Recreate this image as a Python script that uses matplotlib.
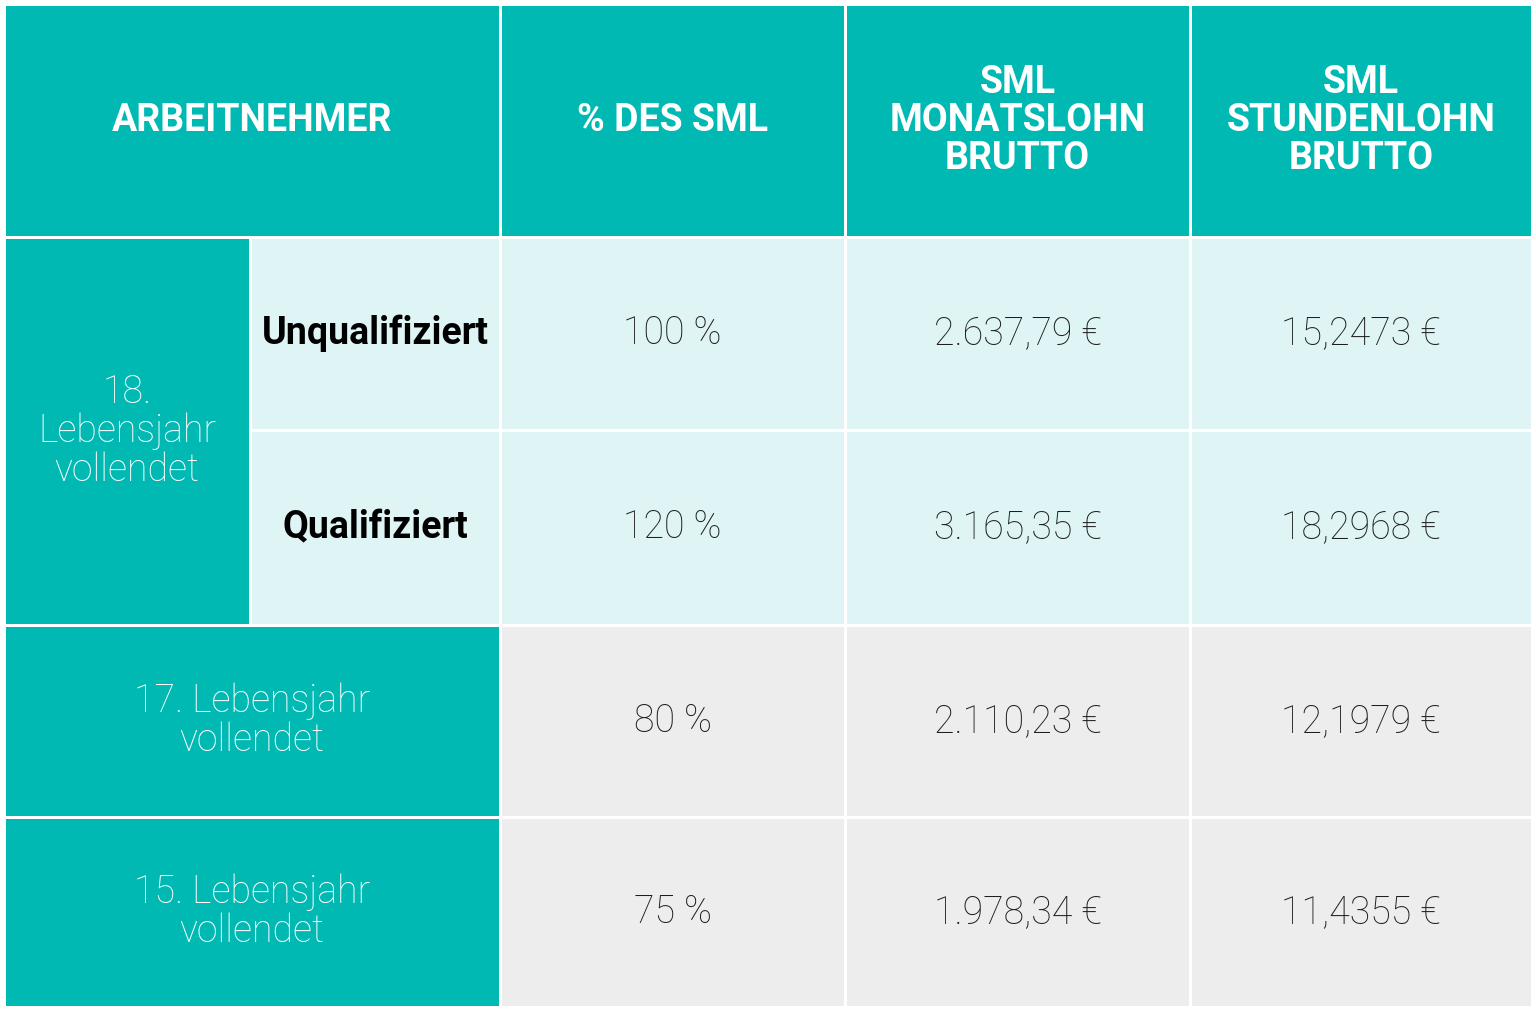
import matplotlib
matplotlib.use("Agg")
import matplotlib.pyplot as plt
from matplotlib.patches import Rectangle

headers = ["ARBEITNEHMER", "% DES SML", "SML\nMONATSLOHN\nBRUTTO", "SML\nSTUNDENLOHN\nBRUTTO"]
group_label = "18.\nLebensjahr\nvollendet"
sub_labels = ["Unqualifiziert", "Qualifiziert"]
row_labels = ["17. Lebensjahr\nvollendet", "15. Lebensjahr\nvollendet"]
percents = ["100 %", "120 %", "80 %", "75 %"]
monthly = ["2.637,79 €", "3.165,35 €", "2.110,23 €", "1.978,34 €"]
hourly = ["15,2473 €", "18,2968 €", "12,1979 €", "11,4355 €"]

TEAL = "#00B9B3"; CYAN = "#DFF5F5"; GREY = "#EDEDED"; DARK = "#1E1E1E"
xs = [4, 250, 500, 845, 1190, 1532]
ys = [4, 237, 430, 625, 817, 1007]
g = 3

fig = plt.figure(figsize=(15.36, 10.10), dpi=100)
ax = fig.add_axes([0, 0, 1, 1])
ax.set_xlim(0, 1536); ax.set_ylim(1010, 0); ax.axis("off")
plt.rcParams['font.family'] = ['Roboto', 'DejaVu Sans']

def cell(x0, x1, y0, y1, color, text, tcolor, weight, size=27):
    ax.add_patch(Rectangle((x0 + g/2, y0 + g/2), x1 - x0 - g, y1 - y0 - g, color=color, lw=0))
    ax.text((x0 + x1)/2, (y0 + y1)/2, text, ha="center", va="center", color=tcolor,
            fontweight=weight, fontsize=size, linespacing=1.05)

# header
cell(xs[0], xs[2], ys[0], ys[1], TEAL, headers[0], "white", "bold")
for i in range(1, 4):
    cell(xs[i+1], xs[i+2], ys[0], ys[1], TEAL, headers[i], "white", "bold")
# group 18
cell(xs[0], xs[1], ys[1], ys[3], TEAL, group_label, "white", "light")
for r in range(2):
    cell(xs[1], xs[2], ys[1+r], ys[2+r], CYAN, sub_labels[r], "black", "bold")
# other rows
for r in range(2):
    cell(xs[0], xs[2], ys[3+r], ys[4+r], TEAL, row_labels[r], "white", "light")
for r in range(4):
    bg = CYAN if r < 2 else GREY
    for c, vals in enumerate([percents, monthly, hourly]):
        cell(xs[2+c], xs[3+c], ys[1+r], ys[2+r], bg, vals[r], DARK, "light")

fig.savefig("out.png", dpi=100, facecolor="white")
